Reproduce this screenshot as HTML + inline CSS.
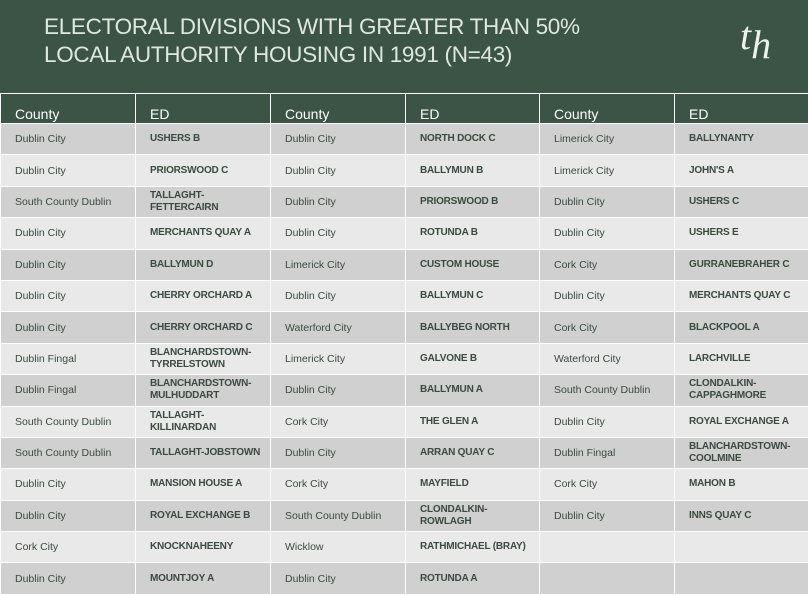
<!DOCTYPE html>
<html><head><meta charset="utf-8"><style>
*{margin:0;padding:0;box-sizing:border-box}
body{width:808px;height:595px;overflow:hidden;background:#3c5446;font-family:"Liberation Sans",sans-serif}
#hdr{position:absolute;left:0;top:0;width:808px;height:93px;background:#3c5446}
#title{position:absolute;left:44px;top:13px;color:#dfe7df;font-size:22.5px;line-height:28px;letter-spacing:-0.3px}
#logo{position:absolute;left:740px;top:12px;color:#eef2ee;font-family:"Liberation Serif",serif;font-style:italic;font-size:40px}
table{position:absolute;left:0;top:93px;width:808px;border-collapse:collapse;table-layout:fixed}
td,th{border:1.5px solid #fff;padding:0 0 0 14px;text-align:left;font-size:10.5px;color:#3b4a40;line-height:12px}
th{height:30px;background:#3c5446;color:#fff;font-weight:normal;font-size:14px;padding-top:10px;border-top:1.5px solid #fff}
tr.d td{background:#cfd0cf}
tr.l td{background:#e8e9e8}
td{height:31.4px}
td.e{font-weight:bold;letter-spacing:-0.2px;font-size:10px}
</style></head><body>
<div id="hdr">
<div id="title">ELECTORAL DIVISIONS WITH GREATER THAN 50%<br>LOCAL AUTHORITY HOUSING IN 1991 (N=43)</div>
<div id="logo">t<sub style="font-size:40px;vertical-align:-9px">h</sub></div>
</div>
<table>
<colgroup><col style="width:135px"><col style="width:135px"><col style="width:135px"><col style="width:134px"><col style="width:135px"><col style="width:134px"></colgroup>
<tr><th>County</th><th>ED</th><th>County</th><th>ED</th><th>County</th><th>ED</th></tr>
<tr class="d"><td>Dublin City</td><td class="e">USHERS B</td><td>Dublin City</td><td class="e">NORTH DOCK C</td><td>Limerick City</td><td class="e">BALLYNANTY</td></tr>
<tr class="l"><td>Dublin City</td><td class="e">PRIORSWOOD C</td><td>Dublin City</td><td class="e">BALLYMUN B</td><td>Limerick City</td><td class="e">JOHN'S A</td></tr>
<tr class="d"><td>South County Dublin</td><td class="e">TALLAGHT-<br>FETTERCAIRN</td><td>Dublin City</td><td class="e">PRIORSWOOD B</td><td>Dublin City</td><td class="e">USHERS C</td></tr>
<tr class="l"><td>Dublin City</td><td class="e">MERCHANTS QUAY A</td><td>Dublin City</td><td class="e">ROTUNDA B</td><td>Dublin City</td><td class="e">USHERS E</td></tr>
<tr class="d"><td>Dublin City</td><td class="e">BALLYMUN D</td><td>Limerick City</td><td class="e">CUSTOM HOUSE</td><td>Cork City</td><td class="e">GURRANEBRAHER C</td></tr>
<tr class="l"><td>Dublin City</td><td class="e">CHERRY ORCHARD A</td><td>Dublin City</td><td class="e">BALLYMUN C</td><td>Dublin City</td><td class="e">MERCHANTS QUAY C</td></tr>
<tr class="d"><td>Dublin City</td><td class="e">CHERRY ORCHARD C</td><td>Waterford City</td><td class="e">BALLYBEG NORTH</td><td>Cork City</td><td class="e">BLACKPOOL A</td></tr>
<tr class="l"><td>Dublin Fingal</td><td class="e">BLANCHARDSTOWN-<br>TYRRELSTOWN</td><td>Limerick City</td><td class="e">GALVONE B</td><td>Waterford City</td><td class="e">LARCHVILLE</td></tr>
<tr class="d"><td>Dublin Fingal</td><td class="e">BLANCHARDSTOWN-<br>MULHUDDART</td><td>Dublin City</td><td class="e">BALLYMUN A</td><td>South County Dublin</td><td class="e">CLONDALKIN-<br>CAPPAGHMORE</td></tr>
<tr class="l"><td>South County Dublin</td><td class="e">TALLAGHT-<br>KILLINARDAN</td><td>Cork City</td><td class="e">THE GLEN A</td><td>Dublin City</td><td class="e">ROYAL EXCHANGE A</td></tr>
<tr class="d"><td>South County Dublin</td><td class="e">TALLAGHT-JOBSTOWN</td><td>Dublin City</td><td class="e">ARRAN QUAY C</td><td>Dublin Fingal</td><td class="e">BLANCHARDSTOWN-<br>COOLMINE</td></tr>
<tr class="l"><td>Dublin City</td><td class="e">MANSION HOUSE A</td><td>Cork City</td><td class="e">MAYFIELD</td><td>Cork City</td><td class="e">MAHON B</td></tr>
<tr class="d"><td>Dublin City</td><td class="e">ROYAL EXCHANGE B</td><td>South County Dublin</td><td class="e">CLONDALKIN-<br>ROWLAGH</td><td>Dublin City</td><td class="e">INNS QUAY C</td></tr>
<tr class="l"><td>Cork City</td><td class="e">KNOCKNAHEENY</td><td>Wicklow</td><td class="e">RATHMICHAEL (BRAY)</td><td></td><td></td></tr>
<tr class="d"><td>Dublin City</td><td class="e">MOUNTJOY A</td><td>Dublin City</td><td class="e">ROTUNDA A</td><td></td><td></td></tr>
</table>
</body></html>
